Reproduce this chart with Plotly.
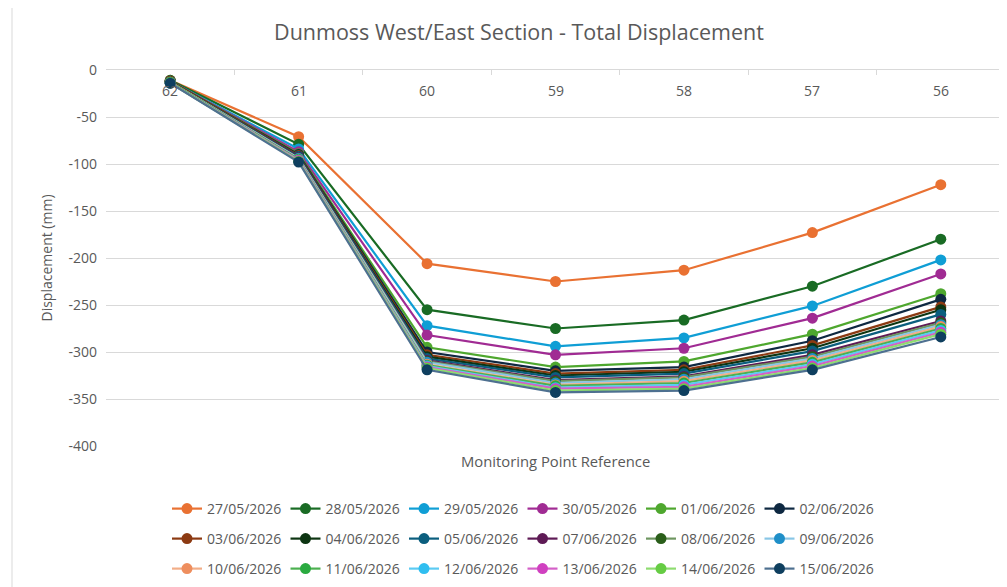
import plotly.graph_objects as go

points = ["62", "61", "60", "59", "58", "57", "56"]

dates = ["27/05/2026", "28/05/2026", "29/05/2026", "30/05/2026", "01/06/2026", "02/06/2026",
         "03/06/2026", "04/06/2026", "05/06/2026", "07/06/2026", "08/06/2026", "09/06/2026",
         "10/06/2026", "11/06/2026", "12/06/2026", "13/06/2026", "14/06/2026", "15/06/2026"]

y_ticks = [0, -50, -100, -150, -200, -250, -300, -350, -400]
y_tick_labels = ["0", "-50", "-100", "-150", "-200", "-250", "-300", "-350", "-400"]

d_27_05 = [-11, -71, -206, -225, -213, -173, -122]
d_28_05 = [-11, -79, -255, -275, -266, -230, -180]
d_29_05 = [-12, -84, -272, -294, -285, -251, -202]
d_30_05 = [-12, -87, -282, -303, -296, -264, -217]
d_01_06 = [-12, -89, -295, -316, -310, -281, -238]
d_02_06 = [-12, -90, -300, -320, -316, -288, -244]
d_03_06 = [-12, -91, -303, -323, -319, -293, -252]
d_04_06 = [-13, -92, -305, -325, -321, -296, -255]
d_05_06 = [-13, -92, -307, -327, -323, -299, -260]
d_07_06 = [-13, -93, -309, -330, -326, -303, -267]
d_08_06 = [-13, -94, -310, -331, -327, -305, -269]
d_09_06 = [-13, -94, -311, -333, -329, -307, -271]
d_10_06 = [-13, -95, -313, -335, -331, -309, -273]
d_11_06 = [-13, -95, -314, -336, -333, -311, -275]
d_12_06 = [-14, -96, -315, -338, -335, -313, -277]
d_13_06 = [-14, -96, -316, -339, -337, -315, -279]
d_14_06 = [-14, -97, -317, -341, -339, -317, -281]
d_15_06 = [-14, -98, -319, -343, -341, -319, -284]

series = [d_27_05, d_28_05, d_29_05, d_30_05, d_01_06, d_02_06, d_03_06, d_04_06, d_05_06,
          d_07_06, d_08_06, d_09_06, d_10_06, d_11_06, d_12_06, d_13_06, d_14_06, d_15_06]

marker_colors = ["#E97132", "#196B24", "#0F9ED5", "#A02B93", "#4EA72E", "#0E2841",
                 "#8C3A12", "#0D3512", "#0B5E7E", "#5E1A55", "#2A5E1A", "#1F8FC8",
                 "#EE8E5E", "#2AAA40", "#30BEF0", "#D040C0", "#66CC44", "#0F3F5F"]
line_colors = ["#E97132", "#196B24", "#0F9ED5", "#A02B93", "#4EA72E", "#0E2841",
               "#8C3A12", "#0D3512", "#0B5E7E", "#5E1A55", "#6E9660", "#88C6E6",
               "#F2AE88", "#4CB050", "#5CCBF3", "#D460C8", "#8EDC70", "#4E7090"]

FONT = "Open Sans"
GRAY = "#595959"

fig = go.Figure()
legends = ["legend", "legend2", "legend3"]
for i, (name, vals) in enumerate(zip(dates, series)):
    fig.add_trace(go.Scatter(
        x=points, y=vals, name=name, mode="lines+markers",
        line=dict(color=line_colors[i], width=2.2),
        marker=dict(color=marker_colors[i], size=11),
        legend=legends[i // 6],
    ))

# page has an 8px body margin; work in page pixels and convert
OFF = 8
W, H = 1007 - OFF, 587 - OFF
PL, PT, PR, PB = 106, 70, 1005, 446   # plot area in page pixels
L, T = PL - OFF, PT - OFF
R = W - (PR - OFF)
B = H - (PB - OFF)
pw = W - L - R
ph = H - T - B

def px_x(px):
    return (px - OFF - L) / pw

def px_y(py):
    return (H - B - (py - OFF)) / ph

leg_common = dict(orientation="h", font=dict(family=FONT, size=14, color=GRAY),
                  entrywidth=73.5, entrywidthmode="pixels", bgcolor="rgba(0,0,0,0)",
                  xanchor="left", yanchor="middle", itemwidth=30, tracegroupgap=0)
leg_x = px_x(167)

annotations = [dict(text=p, x=i, xref="x", y=0, yref="y", yshift=-20,
                    xanchor="center", yanchor="middle", showarrow=False,
                    font=dict(family=FONT, size=14, color=GRAY)) for i, p in enumerate(points)]
annotations.append(dict(text="Monitoring Point Reference", xref="paper", yref="paper",
                        x=0.5, y=px_y(461), xanchor="center", yanchor="middle",
                        showarrow=False, font=dict(family=FONT, size=14.8, color=GRAY)))

fig.update_layout(
    width=W, height=H,
    margin=dict(l=L, r=R, t=T, b=B),
    paper_bgcolor="white", plot_bgcolor="white",
    font=dict(family=FONT, color=GRAY, size=14),
    title=dict(text="Dunmoss West/East Section - Total Displacement",
               x=(519 - OFF) / W, xref="container", xanchor="center",
               y=1 - (32 - OFF) / H, yanchor="middle",
               font=dict(family=FONT, size=21.5, color=GRAY)),
    legend=dict(**leg_common, x=leg_x, y=px_y(509)),
    legend2=dict(**leg_common, x=leg_x, y=px_y(539)),
    legend3=dict(**leg_common, x=leg_x, y=px_y(569)),
    xaxis=dict(type="category", categoryorder="array", categoryarray=points,
               range=[-0.5, len(points) - 0.5],
               side="top", showticklabels=False, automargin=False,
               showline=True, linecolor="#D9D9D9", linewidth=1,
               ticks="inside", tickson="boundaries", ticklen=5, tickcolor="#D9D9D9",
               showgrid=False),
    yaxis=dict(range=[-400, 0], tickmode="array", tickvals=y_ticks, ticktext=y_tick_labels,
               showgrid=True, gridcolor="#D9D9D9",
               gridwidth=1, zeroline=False, showline=False, automargin=False,
               ticklabelstandoff=8,
               tickfont=dict(family=FONT, size=14, color=GRAY),
               title=dict(text="Displacement (mm)", standoff=12,
                          font=dict(family=FONT, size=14, color=GRAY))),
    annotations=annotations,
    shapes=[dict(type="line", xref="paper", yref="paper",
                 x0=px_x(12), x1=px_x(12),
                 y0=px_y(600), y1=px_y(0),
                 line=dict(color="#D9D9D9", width=1))],
)

fig.write_html("out.html")
